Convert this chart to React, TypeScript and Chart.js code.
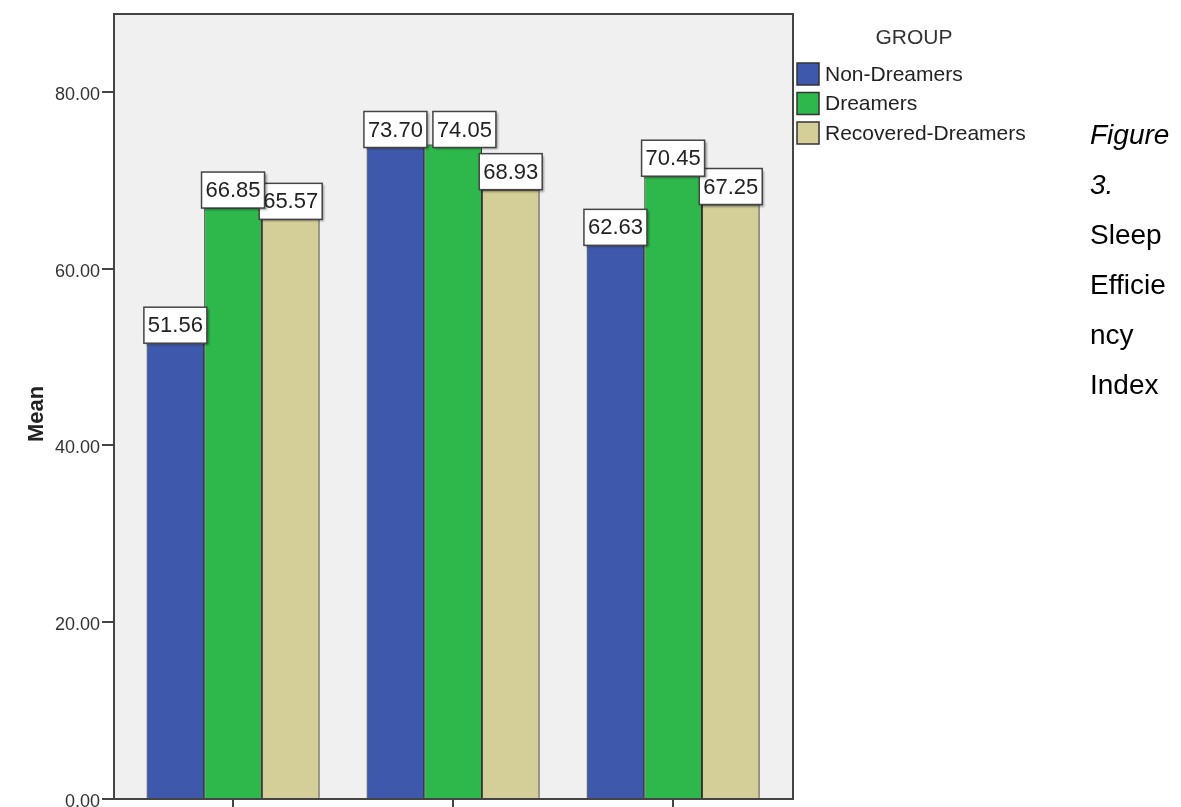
import React, { useEffect, useRef } from "react";
import { Chart, registerables } from "chart.js";

Chart.register(...registerables);

// Group means per condition (three conditions along the x axis)
const groups = ["Non-Dreamers", "Dreamers", "Recovered-Dreamers"];
const categoryPositions = [0, 1, 2];
const nonDreamers = [51.56, 73.7, 62.63];
const dreamers = [66.85, 74.05, 70.45];
const recoveredDreamers = [65.57, 68.93, 67.25];
const yTicks = [0, 20, 40, 60, 80];
const groupColors = ["#3E58AC", "#2EB84B", "#D4CF98"];
const legendTitle = "GROUP";
const yTitle = "Mean";

const series = [nonDreamers, dreamers, recoveredDreamers];

const FONT = '"Liberation Sans", Arial, sans-serif';

type Box = { x: number; y: number; w: number; h: number; text: string };

const spssFrame = {
  id: "spssFrame",
  beforeDraw(chart: any) {
    const { ctx, chartArea: a } = chart;
    ctx.save();
    ctx.fillStyle = "#F0F0F0";
    ctx.fillRect(a.left, a.top, a.right - a.left, a.bottom - a.top);
    ctx.restore();
  },
  beforeDatasetsDraw(chart: any) {
    const ctx = chart.ctx;
    ctx.save();
    ctx.shadowColor = "rgba(0,0,0,0.35)";
    ctx.shadowOffsetX = 2;
    ctx.shadowOffsetY = 0;
    ctx.shadowBlur = 2;
  },
  afterDatasetsDraw(chart: any) {
    const { ctx, chartArea: a } = chart;
    ctx.restore();

    // plot frame
    ctx.save();
    ctx.strokeStyle = "#444";
    ctx.lineWidth = 2;
    ctx.strokeRect(a.left, a.top, a.right - a.left, a.bottom - a.top);
    ctx.restore();

    // value labels in boxes above each bar; a taller neighbour's box that
    // would collide is nudged to the right of the previous box
    ctx.save();
    ctx.font = `22px ${FONT}`;
    const boxes: Box[] = [];
    categoryPositions.forEach((_, j) => {
      const placed: Box[] = [];
      series.forEach((vals, i) => {
        const el = chart.getDatasetMeta(i).data[j];
        const text = vals[j].toFixed(2);
        const w = Math.round(ctx.measureText(text).width) + 8;
        const h = 36;
        let x = el.x - w / 2;
        let y = el.y - h;
        const prev = placed[placed.length - 1];
        if (prev) {
          const overlapX = prev.x + prev.w - x;
          const overlapY = Math.min(prev.y + prev.h, y + h) - Math.max(prev.y, y);
          if (overlapX > 0 && overlapY > 0 && y <= prev.y) {
            x = prev.x + prev.w + 6;
            y = prev.y;
          }
        }
        placed.push({ x, y, w, h, text });
      });
      boxes.push(...placed.reverse());
    });
    boxes.forEach((b) => {
      ctx.save();
      ctx.shadowColor = "rgba(0,0,0,0.35)";
      ctx.shadowOffsetX = 2;
      ctx.shadowOffsetY = 2;
      ctx.shadowBlur = 2;
      ctx.fillStyle = "#FFFFFF";
      ctx.fillRect(b.x, b.y, b.w, b.h);
      ctx.restore();
      ctx.strokeStyle = "#444";
      ctx.lineWidth = 1.5;
      ctx.strokeRect(b.x, b.y, b.w, b.h);
      ctx.fillStyle = "#222";
      ctx.textAlign = "center";
      ctx.textBaseline = "middle";
      ctx.fillText(b.text, b.x + b.w / 2, b.y + b.h / 2 + 1);
    });
    ctx.restore();
  },
  afterDraw(chart: any) {
    const { ctx } = chart;
    ctx.save();
    // legend
    ctx.fillStyle = "#333";
    ctx.font = `21px ${FONT}`;
    ctx.textAlign = "center";
    ctx.textBaseline = "middle";
    ctx.fillText(legendTitle, 914, 38);
    groups.forEach((g, k) => {
      const top = 63 + k * 29.5;
      ctx.fillStyle = groupColors[k];
      ctx.fillRect(797, top, 22, 22);
      ctx.strokeStyle = "#333";
      ctx.lineWidth = 1.5;
      ctx.strokeRect(797, top, 22, 22);
      ctx.fillStyle = "#222";
      ctx.textAlign = "left";
      ctx.fillText(g, 825, top + 12);
    });
    // y axis title
    ctx.translate(37, 414);
    ctx.rotate(-Math.PI / 2);
    ctx.font = `bold 22px ${FONT}`;
    ctx.fillStyle = "#222";
    ctx.textAlign = "center";
    ctx.textBaseline = "middle";
    ctx.fillText(yTitle, 0, 0);
    ctx.restore();
  },
};

export default function App() {
  const canvasRef = useRef<HTMLCanvasElement | null>(null);

  useEffect(() => {
    if (!canvasRef.current) return;
    const chart = new Chart(canvasRef.current, {
      type: "bar",
      data: {
        datasets: series.map((vals, i) => ({
          label: groups[i],
          data: categoryPositions.map((x, j) => ({ x, y: vals[j] })),
          backgroundColor: groupColors[i],
          borderColor: "#222",
          borderWidth: 1,
          categoryPercentage: 0.786,
          barPercentage: 1,
        })),
      },
      options: {
        responsive: false,
        animation: false,
        events: [],
        layout: { padding: { top: 14, right: 388, left: 0, bottom: 0 } },
        plugins: {
          legend: { display: false },
          tooltip: { enabled: false },
        },
        scales: {
          x: {
            type: "linear",
            min: -0.541,
            max: 2.545,
            offset: false,
            afterBuildTicks: (s: any) => {
              s.ticks = categoryPositions.map((v) => ({ value: v }));
            },
            afterFit: (s: any) => {
              s.height = 31;
            },
            ticks: { display: false },
            grid: {
              offset: false,
              drawOnChartArea: false,
              drawTicks: true,
              tickLength: 31,
              color: "#444",
              lineWidth: 2,
            },
            border: { display: false },
          },
          y: {
            min: 0,
            max: 88.8,
            afterBuildTicks: (s: any) => {
              s.ticks = yTicks.map((v) => ({ value: v }));
            },
            afterFit: (s: any) => {
              s.width = 114;
            },
            ticks: {
              callback: (v: any) => Number(v).toFixed(2),
              color: "#333",
              font: { size: 18, family: FONT },
              padding: 2,
              labelOffset: 3,
            },
            grid: {
              drawOnChartArea: false,
              drawTicks: true,
              tickLength: 12,
              color: "#444",
              lineWidth: 2,
            },
            border: { display: false },
          },
        },
      },
      plugins: [spssFrame],
    } as any);
    return () => chart.destroy();
  }, []);

  return (
    <div
      style={{
        position: "fixed",
        left: 0,
        top: 0,
        width: 1181,
        height: 807,
        overflow: "hidden",
        background: "#fff",
      }}
    >
      <canvas
        ref={canvasRef}
        width={1181}
        height={830}
        style={{ position: "absolute", left: 0, top: 0, width: 1181, height: 830 }}
      />
      <div
        style={{
          position: "absolute",
          left: 1090,
          top: 110,
          width: 86,
          fontFamily: FONT,
          fontSize: 28,
          lineHeight: "50px",
          color: "#000",
          overflowWrap: "anywhere",
        }}
      >
        <i>Figure 3.</i> Sleep Efficiency Index
      </div>
    </div>
  );
}
